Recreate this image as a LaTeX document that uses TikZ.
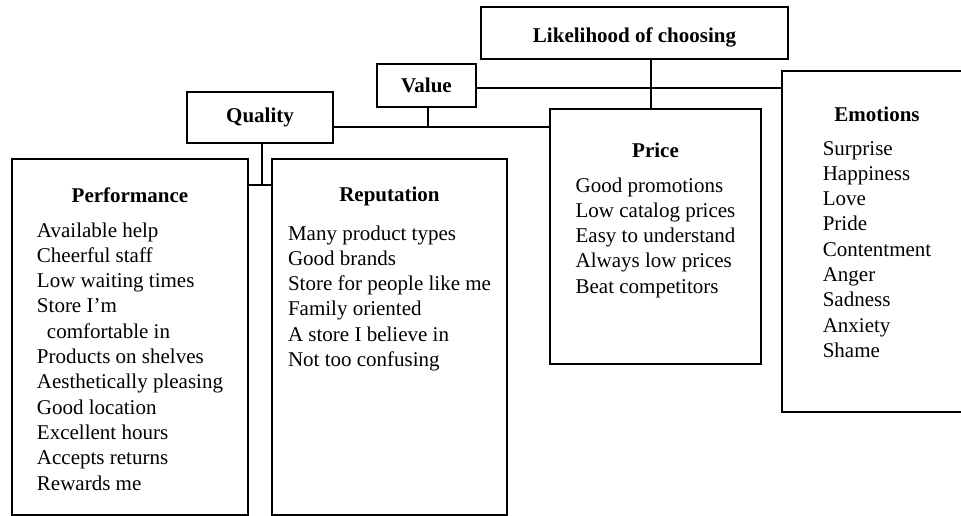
\documentclass[tikz,border=0pt]{standalone}
\usepackage{fontspec}
\setmainfont{Liberation Serif}
\usetikzlibrary{positioning}

\begin{document}
\begin{tikzpicture}[x=1pt, y=-1pt, line width=1.6pt,
    font=\fontsize{21}{25.3}\selectfont,
    main/.style={rectangle, draw, outer sep=0pt, font=\fontsize{21}{25.3}\selectfont\bfseries},
    group/.style={rectangle, draw, outer sep=0pt, anchor=north west, align=center, inner sep=0pt}]
    \path[use as bounding box, clip] (0,0) rectangle (961,516);

    % top of the tree
    \node[main, minimum width=307pt, minimum height=52pt, text height=23pt] (likely) at (634.5,33) {Likelihood of choosing};
    \node[main, minimum width=99pt, minimum height=43pt] (value) at (426.5,85.5) {Value};
    \node[main, minimum width=146pt, minimum height=51pt] (quality) at (260,117.5) {Quality};

    % boxes with the items
    \node[group, minimum width=236pt, text height=78pt, text depth=278pt] (perf) at (12,159)
        {\textbf{Performance}\\[9pt]
         \begin{tabular}[t]{@{}l@{}}
         Available help\\ Cheerful staff\\ Low waiting times\\ Store I’m\\
         \hspace*{10pt}comfortable in\\ Products on shelves\\ Aesthetically pleasing\\
         Good location\\ Excellent hours\\ Accepts returns\\ Rewards me
         \end{tabular}};
    \node[group, anchor=west, minimum width=235pt, text height=81pt, text depth=275pt] (rep) [right=24pt of perf]
        {\textbf{Reputation}\\[13pt]
         \begin{tabular}[t]{@{}l@{}}
         Many product types\\ Good brands\\ Store for people like me\\
         Family oriented\\ A store I believe in\\ Not too confusing
         \end{tabular}};
    \node[group, minimum width=211pt, text height=83pt, text depth=172pt] (price) at (550,109)
        {\textbf{Price}\\[9pt]
         \begin{tabular}[t]{@{}l@{}}
         Good promotions\\ Low catalog prices\\ Easy to understand\\
         Always low prices\\ Beat competitors
         \end{tabular}};
    \node[group, minimum width=190pt, text height=84pt, text depth=257pt] (emo) at (782,71)
        {\textbf{Emotions}\\[8pt]
         \begin{tabular}[t]{@{}l@{}}
         Surprise\\ Happiness\\ Love\\ Pride\\ Contentment\\
         Anger\\ Sadness\\ Anxiety\\ Shame
         \end{tabular}};

    % connectors
    \coordinate (ljoin) at (651,88);
    \coordinate (vjoin) at (428,127);
    \coordinate (qjoin) at (262,185);
    \draw (likely.south -| ljoin) -- (price.north -| ljoin);
    \draw (value.east |- ljoin) -- (emo.west |- ljoin);
    \draw (value.south -| vjoin) -- (vjoin);
    \draw (quality.east |- vjoin) -- (price.west |- vjoin);
    \draw (quality.south -| qjoin) -- (qjoin);
    \draw (perf.east |- qjoin) -- (rep.west |- qjoin);
\end{tikzpicture}
\end{document}
